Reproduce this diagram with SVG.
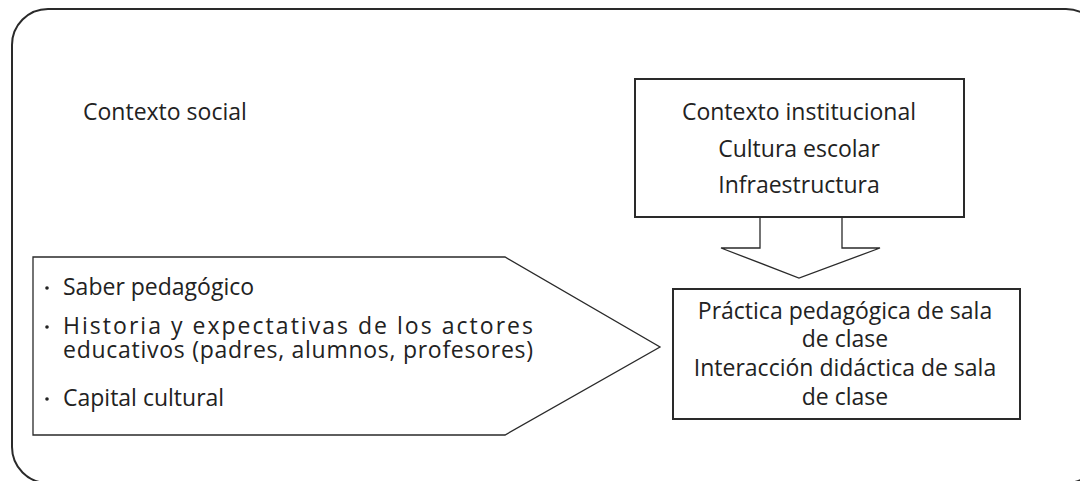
<svg xmlns="http://www.w3.org/2000/svg" width="1080" height="481" viewBox="0 0 1080 481">
<style>
  .t { font-family: "Open Sans", "Liberation Sans", sans-serif; font-size: 23px; fill: #222; }
  .c { text-anchor: middle; }
  .box { fill: #fff; stroke: #2a2a2a; stroke-width: 2; }
  .shape { fill: #fff; stroke: #2a2a2a; stroke-width: 1.3; }
  .dot { fill: #222; }
</style>
<rect width="1080" height="481" fill="#fff"/>
<g id="outer">
  <rect x="12" y="9" width="1090" height="474" rx="36" ry="36" fill="none" stroke="#2a2a2a" stroke-width="2"/>
  <text class="t" x="83" y="120">Contexto social</text>
</g>
<g id="connectors">
  <path class="shape" d="M760,217 V248 H721 L799,278 L880,248 H842 V217"/>
</g>
<g id="institucional">
  <rect class="box" x="635" y="79" width="329" height="138"/>
  <text class="t c" x="799" y="120">Contexto institucional</text>
  <text class="t c" x="799" y="157">Cultura escolar</text>
  <text class="t c" x="799" y="193">Infraestructura</text>
</g>
<g id="practica">
  <rect class="box" x="673" y="289" width="347" height="130"/>
  <text class="t c" x="845" y="319">Práctica pedagógica de sala</text>
  <text class="t c" x="845" y="347">de clase</text>
  <text class="t c" x="845" y="376">Interacción didáctica de sala</text>
  <text class="t c" x="845" y="405">de clase</text>
</g>
<g id="social">
  <path class="shape" d="M33,257 H505 L660,347 L505,435 H33 Z" stroke-width="2"/>
  <circle class="dot" cx="47" cy="288" r="1.8"/>
  <text class="t" x="63" y="295">Saber pedagógico</text>
  <circle class="dot" cx="47" cy="327" r="1.8"/>
  <text class="t" x="63" y="334" textLength="470" lengthAdjust="spacing">Historia y expectativas de los actores</text>
  <text class="t" x="63" y="358" textLength="470" lengthAdjust="spacing">educativos (padres, alumnos, profesores)</text>
  <circle class="dot" cx="47" cy="399" r="1.8"/>
  <text class="t" x="63" y="406">Capital cultural</text>
</g>
</svg>
